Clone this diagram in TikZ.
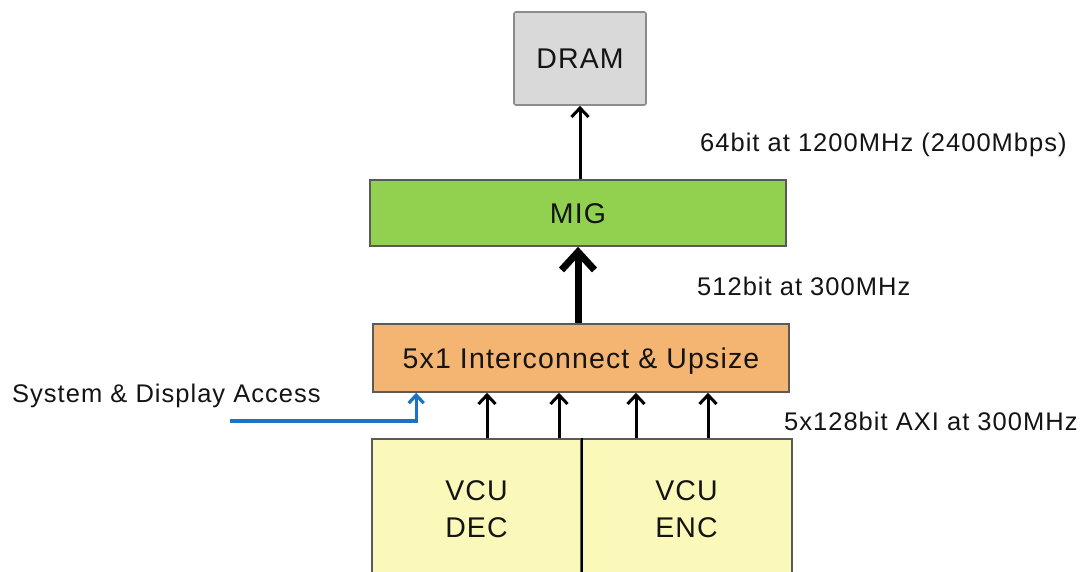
\documentclass[tikz,border=0pt]{standalone}
\usepackage{fontspec}
\setmainfont{Liberation Sans}[LetterSpace=4]
\usetikzlibrary{arrows.meta,calc}
\definecolor{txt}{HTML}{141414}
\definecolor{dramgray}{HTML}{D9D9D9}
\definecolor{dramline}{HTML}{8C8C8C}
\definecolor{miggreen}{HTML}{92D050}
\definecolor{icorange}{HTML}{F4B573}
\definecolor{vcuyellow}{HTML}{FAF9BA}
\definecolor{bordergray}{HTML}{5A5A5A}
\definecolor{bluel}{HTML}{1A73C4}
\begin{document}
\begin{tikzpicture}[x=1pt,y=-1pt,
  blk/.style={draw=bordergray, line width=1.6pt, inner sep=0pt, text=txt, font=\fontsize{28.5}{37}\selectfont},
  one/.style={text height=20pt, text depth=0pt},
  lbl/.style={anchor=base west, inner sep=0pt, text=txt, font=\fontsize{25.5}{30}\selectfont},
  arr/.style={line width=3pt, draw=black, -{Straight Barb[length=9pt,width=17pt]}},
  bigarr/.style={line width=7pt, draw=black, -{Straight Barb[length=18pt,width=33pt]}},
  blarr/.style={line width=3.2pt, draw=bluel, -{Straight Barb[length=8pt,width=15pt]}}]
\useasboundingbox (0,0) rectangle (1087,571);
\clip (0,0) rectangle (1087,571);
\node[blk,one,fill=dramgray,draw=dramline,rounded corners=2pt,minimum width=132pt,minimum height=93pt] (dram) at (580,58.5) {DRAM};
\node[blk,one,fill=miggreen,minimum width=416pt,minimum height=66pt] (mig) at (578,213) {MIG};
\node[blk,one,fill=icorange,minimum width=416pt,minimum height=68pt] (ic) at (581,358) {5x1 Interconnect \& Upsize};
\node[blk,fill=vcuyellow,minimum width=209pt,minimum height=140pt,align=center] (dec) at (476.5,509) {VCU\\DEC};
\node[blk,fill=vcuyellow,minimum width=211pt,minimum height=140pt,align=center] (enc) at (686.5,509) {VCU\\ENC};
\draw[black,line width=1.6pt] (dec.north east) -- (dec.south east);
\draw[arr] (mig.north -| dram.south) -- (dram.south);
\draw[bigarr] (ic.north -| mig.south) -- (mig.south);
\draw[arr] ([xshift=10.5pt]dec.north) -- ([xshift=10.5pt]dec.north |- ic.south);
\draw[arr] ([xshift=82.5pt]dec.north) -- ([xshift=82.5pt]dec.north |- ic.south);
\draw[arr] ([xshift=-50.5pt]enc.north) -- ([xshift=-50.5pt]enc.north |- ic.south);
\draw[arr] ([xshift=21.5pt]enc.north) -- ([xshift=21.5pt]enc.north |- ic.south);
\coordinate (sysend) at (230,421);
\draw[blarr] (sysend) -| ([xshift=44pt]ic.south west);
\node[lbl] (l64) at (700,151.7) {64bit at 1200MHz (2400Mbps)};
\node[lbl] (l512) at (697,295) {512bit at 300MHz};
\node[lbl] (laxi) at (784,430) {5x128bit AXI at 300MHz};
\node[lbl] (lsys) at (12,402) {System \& Display Access};
\end{tikzpicture}
\end{document}
